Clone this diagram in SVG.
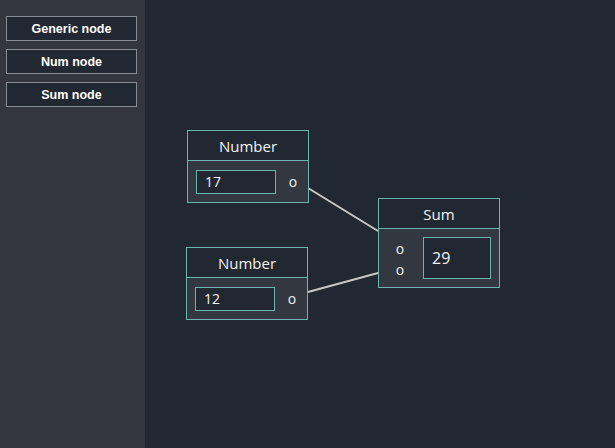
<svg xmlns="http://www.w3.org/2000/svg" width="615" height="448" viewBox="0 0 615 448">
<style>
.btn rect{fill:#222831;stroke:#8a8d93;stroke-width:1}
.btn text{fill:#ffffff;font-family:"Liberation Sans",Arial,sans-serif;font-size:12.5px;font-weight:bold;text-anchor:middle}
.hdr{fill:#222831;stroke:#6db3ae;stroke-width:1}
.body{fill:#33373f;stroke:#6db3ae;stroke-width:1}
.inp{fill:#222831;stroke:#6db3ae;stroke-width:1}
.t{fill:#f2f2f2;font-family:"Open Sans","Noto Sans",sans-serif;font-size:15px;text-anchor:middle}
.v{fill:#f2f2f2;font-family:"Open Sans","Noto Sans",sans-serif;font-size:14px}
.p{fill:#f2f2f2;font-family:"Open Sans","Noto Sans",sans-serif;font-size:14px;text-anchor:middle}
.edge{stroke:#c8c8c8;stroke-width:2;fill:none}
</style>
<rect x="0" y="0" width="615" height="448" fill="#222831"/>
<rect x="0" y="0" width="145" height="448" fill="#33363f"/>
<g id="sidebar">
<g class="btn" id="btn-generic"><rect x="6.5" y="16.5" width="130" height="24"/><text x="71.5" y="33">Generic node</text></g>
<g class="btn" id="btn-num"><rect x="6.5" y="49.5" width="130" height="24"/><text x="71.5" y="66">Num node</text></g>
<g class="btn" id="btn-sum"><rect x="6.5" y="82.5" width="130" height="24"/><text x="71.5" y="99">Sum node</text></g>
</g>
<g id="connectors">
<line class="edge" x1="308" y1="188" x2="378" y2="231"/>
<line class="edge" x1="308" y1="292" x2="378" y2="273"/>
</g>
<g id="number1">
<rect class="hdr" x="187.5" y="130.5" width="121" height="30"/>
<rect class="body" x="187.5" y="160.5" width="121" height="42"/>
<text class="t" x="248" y="151.5">Number</text>
<rect class="inp" x="196.5" y="170.5" width="79" height="23"/>
<text class="v" x="205" y="186.5">17</text>
<text class="p" x="293" y="186.5">o</text>
</g>
<g id="number2">
<rect class="hdr" x="186.5" y="247.5" width="121" height="30"/>
<rect class="body" x="186.5" y="277.5" width="121" height="42"/>
<text class="t" x="247" y="268.5">Number</text>
<rect class="inp" x="195.5" y="287.5" width="79" height="23"/>
<text class="v" x="204" y="303.5">12</text>
<text class="p" x="292" y="303.5">o</text>
</g>
<g id="sum">
<rect class="hdr" x="378.5" y="198.5" width="121" height="30"/>
<rect class="body" x="378.5" y="228.5" width="121" height="59"/>
<text class="t" x="439" y="219.5">Sum</text>
<text class="p" x="400" y="253.5">o</text>
<text class="p" x="400" y="274.5">o</text>
<rect class="inp" x="423.5" y="237.5" width="67" height="41"/>
<text class="v" x="432" y="263.5" style="font-size:16px">29</text>
</g>
</svg>
